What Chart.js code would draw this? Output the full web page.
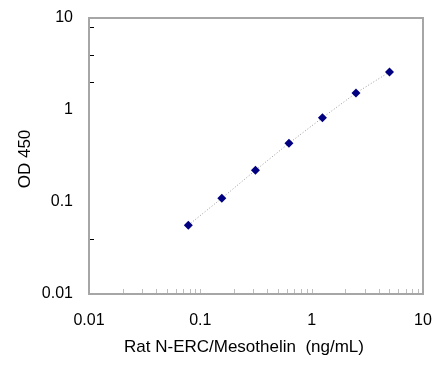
<!DOCTYPE html>
<html>
<head>
<meta charset="utf-8">
<script src="https://cdn.jsdelivr.net/npm/chart.js@4.4.1/dist/chart.umd.min.js"></script>
<style>
  html, body { margin: 0; padding: 0; background: #fff; }
  #wrap { width: 434px; height: 366px; }
</style>
</head>
<body>
<div id="wrap"><canvas id="myChart"></canvas></div>
<script>
// concentration (ng/mL) and OD 450 readings
let conc = [0.078, 0.156, 0.3125, 0.625, 1.25, 2.5, 5];
let od = [0.056, 0.11, 0.221, 0.435, 0.824, 1.53, 2.59];

let majorTicks = [0.01, 0.1, 1, 10];
let xMinorTicks = [0.02, 0.03, 0.04, 0.05, 0.06, 0.07, 0.08, 0.09, 0.1,
                   0.2, 0.3, 0.4, 0.5, 0.6, 0.7, 0.8, 0.9, 1,
                   2, 3, 4, 5, 6, 7, 8, 9];
let yMinorTicks = [8, 4, 2, 0.04];

let xTitle = 'Rat N-ERC/Mesothelin  (ng/mL)';
let yTitle = 'OD 450';

let points = conc.map((c, i) => ({ x: c, y: od[i] }));

// frame, inner tick marks and axis titles
const framePlugin = {
  id: 'frame',
  afterDraw(chart) {
    const ctx = chart.ctx;
    const a = chart.chartArea;
    const xs = chart.scales.x, ys = chart.scales.y;
    ctx.save();
    ctx.strokeStyle = '#bdbdbd';
    ctx.lineWidth = 1;
    xMinorTicks.forEach(v => {
      const px = Math.round(xs.getPixelForValue(v)) + 0.5;
      ctx.beginPath();
      ctx.moveTo(px, a.bottom);
      ctx.lineTo(px, a.bottom - 5);
      ctx.stroke();
    });
    ctx.strokeStyle = '#000';
    yMinorTicks.forEach(v => {
      const py = Math.round(ys.getPixelForValue(v)) + 0.5;
      ctx.beginPath();
      ctx.moveTo(a.left, py);
      ctx.lineTo(a.left + 5, py);
      ctx.stroke();
    });
    ctx.strokeStyle = '#a6a6a6';
    ctx.lineWidth = 2;
    ctx.strokeRect(a.left, a.top, a.right - a.left, a.bottom - a.top);

    ctx.fillStyle = '#000';
    ctx.font = '17px "Liberation Sans", Arial, sans-serif';
    ctx.textAlign = 'center';
    ctx.textBaseline = 'middle';
    ctx.fillText(xTitle, 244, 347);
    ctx.translate(25, 159);
    ctx.rotate(-Math.PI / 2);
    ctx.fillText(yTitle, 0, 0);
    ctx.restore();
  }
};

let myChart = document.getElementById('myChart').getContext('2d');
let chart = new Chart(myChart, {
  type: 'scatter',
  data: {
    datasets: [{
      data: points,
      showLine: true,
      borderColor: '#9a9a9a',
      borderWidth: 1,
      borderDash: [1, 2],
      pointStyle: 'rectRot',
      pointRadius: 4.5,
      pointBackgroundColor: '#000080',
      pointBorderColor: '#000080',
      pointBorderWidth: 0
    }]
  },
  options: {
    responsive: true,
    maintainAspectRatio: false,
    animation: false,
    layout: { padding: { top: 18, right: 11, left: 0, bottom: 0 } },
    plugins: {
      legend: { display: false },
      tooltip: { enabled: false }
    },
    scales: {
      x: {
        type: 'logarithmic',
        min: 0.01,
        max: 10,
        grid: { display: false, drawTicks: false },
        border: { display: false },
        afterBuildTicks: s => { s.ticks = majorTicks.map(v => ({ value: v })); },
        afterFit: s => { s.height = 72; s.paddingLeft = 0; s.paddingRight = 0; },
        ticks: {
          autoSkip: false,
          maxRotation: 0,
          padding: 17,
          color: '#000',
          font: { family: '"Liberation Sans", Arial, sans-serif', size: 16 },
          callback: v => String(v)
        }
      },
      y: {
        type: 'logarithmic',
        min: 0.01,
        max: 10,
        grid: { display: false, drawTicks: false },
        border: { display: false },
        afterBuildTicks: s => { s.ticks = majorTicks.map(v => ({ value: v })); },
        afterFit: s => { s.width = 89; s.paddingTop = 0; s.paddingBottom = 0; },
        ticks: {
          padding: 16,
          color: '#000',
          font: { family: '"Liberation Sans", Arial, sans-serif', size: 16 },
          callback: v => String(v)
        }
      }
    }
  },
  plugins: [framePlugin]
});
</script>
</body>
</html>
